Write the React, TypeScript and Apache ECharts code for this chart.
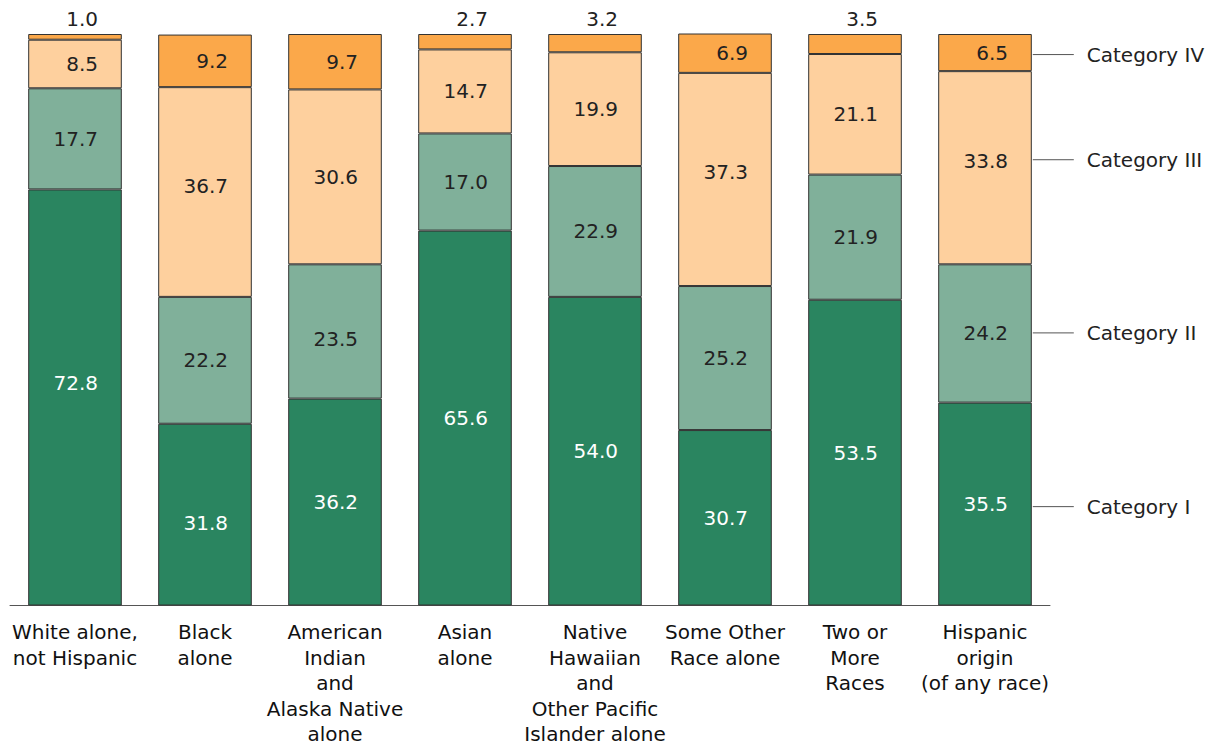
import React, { useEffect, useRef } from "react";
import * as echarts from "echarts";

const categories = [
  "White alone,\nnot Hispanic",
  "Black\nalone",
  "American\nIndian\nand\nAlaska Native\nalone",
  "Asian\nalone",
  "Native\nHawaiian\nand\nOther Pacific\nIslander alone",
  "Some Other\nRace alone",
  "Two or\nMore\nRaces",
  "Hispanic\norigin\n(of any race)",
];
const seriesNames = ["Category I", "Category II", "Category III", "Category IV"];
const catI = [72.8, 31.8, 36.2, 65.6, 54.0, 30.7, 53.5, 35.5];
const catII = [17.7, 22.2, 23.5, 17.0, 22.9, 25.2, 21.9, 24.2];
const catIII = [8.5, 36.7, 30.6, 14.7, 19.9, 37.3, 21.1, 33.8];
const catIV = [1.0, 9.2, 9.7, 2.7, 3.2, 6.9, 3.5, 6.5];
// value (on the 0-100 axis) at which each series name is pointed to, beside the last bar
const legendAnchors = [17.3, 47.7, 78.0, 96.4];

const colors = ["#2a8560", "#80b09a", "#fed09e", "#fba84a"];
const labelColors = ["#ffffff", "#222222", "#222222", "#222222"];
// small vertical nudges of a few value labels, as placed in the original ("series-index": px)
const labelNudge: Record<string, number> = {
  "0-0": -14,
  "0-1": 8,
  "1-2": 8,
  "2-1": -6,
  "2-5": -7,
  "2-7": -7,
};

const FONT = "DejaVu Sans";
const FS = 20;

export default function App() {
  const ref = useRef<HTMLDivElement>(null);
  useEffect(() => {
    document.body.style.margin = "0";
    const chart = echarts.init(ref.current!, null, { renderer: "svg" });
    const all = [catI, catII, catIII, catIV];
    const lastIdx = categories.length - 1;
    const annData = seriesNames.map((n, i) => [lastIdx, legendAnchors[i], n]);
    const barSeries = all.map((arr, i) => ({
      name: seriesNames[i],
      type: "bar",
      stack: "total",
      barWidth: "72%",
      data: arr.map((v, j) => ({
        value: v,
        label:
          v < 5
            ? {
                show: true,
                position: "top",
                distance: 5,
                color: "#222",
                align: "right",
                offset: [23, 0],
              }
            : {
                show: true,
                position: "inside",
                align: "right",
                offset: [23, labelNudge[`${i}-${j}`] || 0],
              },
      })),
      itemStyle: { color: colors[i], borderColor: "#333", borderWidth: 1 },
      label: {
        show: true,
        formatter: (p: any) => Number(p.value).toFixed(1),
        color: labelColors[i],
        fontFamily: FONT,
        fontSize: FS,
      },
    }));
    chart.setOption({
      animation: false,
      grid: { left: 10, right: 162, top: 34, bottom: 141 },
      xAxis: {
        type: "category",
        data: categories,
        axisTick: { show: false },
        axisLine: { lineStyle: { color: "#555", width: 1 } },
        axisLabel: {
          interval: 0,
          color: "#111",
          fontFamily: FONT,
          fontSize: FS,
          lineHeight: 25.5,
          margin: 14,
        },
      },
      yAxis: {
        type: "value",
        min: 0,
        max: 100,
        show: false,
        splitLine: { show: false },
      },
      series: [
        ...barSeries,
        {
          type: "custom",
          silent: true,
          data: annData,
          renderItem: (params: any, api: any) => {
            const pt = api.coord([api.value(0), api.value(1)]);
            const bw = api.size([1, 0])[0];
            const x0 = pt[0] + bw * 0.36 + 1;
            return {
              type: "group",
              children: [
                {
                  type: "line",
                  shape: { x1: x0, y1: pt[1], x2: x0 + 41, y2: pt[1] },
                  style: { stroke: "#555", lineWidth: 1 },
                },
                {
                  type: "text",
                  x: x0 + 54,
                  y: pt[1],
                  style: {
                    text: annData[params.dataIndex][2],
                    fill: "#222",
                    font: `${FS}px "${FONT}"`,
                    textAlign: "left",
                    textVerticalAlign: "middle",
                  },
                },
              ],
            };
          },
        },
      ],
    });
    return () => chart.dispose();
  }, []);
  return <div ref={ref} style={{ width: 1212, height: 747 }} />;
}
